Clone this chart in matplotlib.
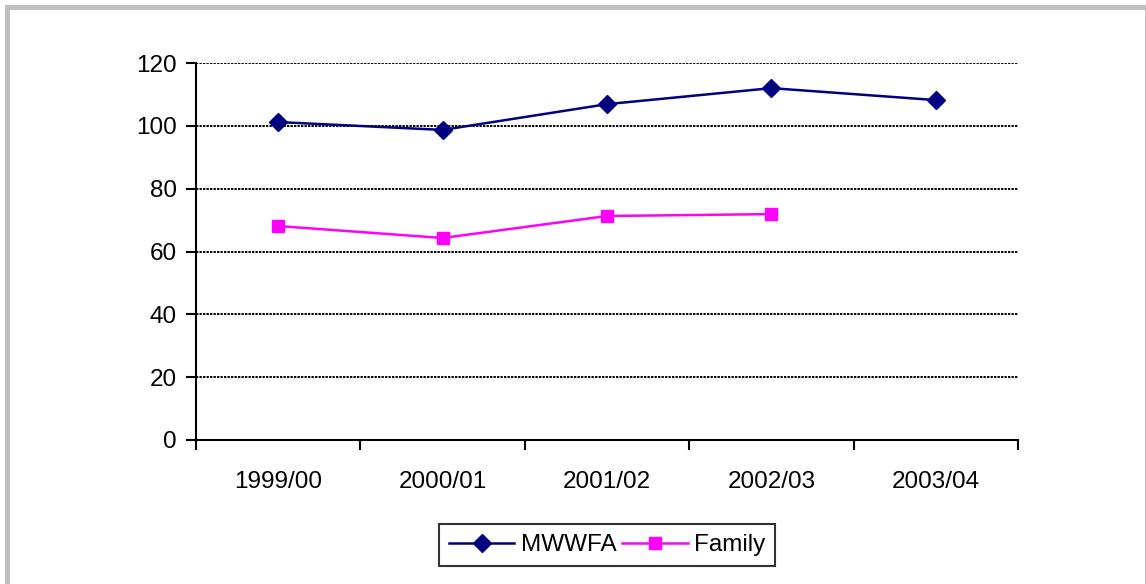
import matplotlib
matplotlib.use("Agg")
import matplotlib.pyplot as plt
from matplotlib.patches import Rectangle
import numpy as np

categories = ["1999/00", "2000/01", "2001/02", "2002/03", "2003/04"]
mwwfa = [101.2, 98.7, 106.9, 112.0, 108.2]
family = [68.1, 64.3, 71.3, 71.9]
yticks = [0, 20, 40, 60, 80, 100, 120]

W, H = 1146, 584
plt.rcParams['font.family'] = ['Liberation Sans', 'DejaVu Sans']
fig = plt.figure(figsize=(W / 100, H / 100), dpi=100)

# outer gray border
fig.patches.append(Rectangle((6.5 / W, -10 / H), (1146.5 - 6.5) / W, (H - 6.5 + 10) / H,
                             transform=fig.transFigure, fill=False,
                             edgecolor="#c0c0c0", linewidth=5 * 72 / 100))

FS = 17.5
ax = fig.add_axes([196 / W, 1 - 440 / H, (1018 - 196) / W, (440 - 63) / H])
x = np.arange(len(categories))
ax.plot(x, mwwfa, color="#000080", marker="D", markersize=9, linewidth=1.8,
        label="MWWFA")
ax.plot(x[:len(family)], family, color="#ff00ff", marker="s", markersize=8.5,
        linewidth=1.8, label="Family", markeredgecolor="#ff00ff")

ax.set_xlim(-0.5, len(categories) - 0.5)
ax.set_ylim(0, 120)
ax.set_yticks(yticks)
ax.set_yticklabels([str(v) for v in yticks], fontsize=FS)
ax.set_xticks(x)
ax.set_xticklabels(categories, fontsize=FS)
ax.tick_params(axis="x", length=0, pad=22)
ax.set_xticks(np.arange(-0.5, len(categories), 1.0), minor=True)
ax.tick_params(axis="x", which="minor", length=7, width=1.5, direction="out")
ax.tick_params(axis="y", length=7, width=1.5, direction="out", pad=7)

for v in yticks[1:]:
    ax.axhline(v, color="black", linestyle=(0, (1.2, 0.6)), linewidth=1.4, zorder=0)

for s in ["top", "right"]:
    ax.spines[s].set_visible(False)
ax.spines["left"].set_linewidth(1.5)
ax.spines["bottom"].set_linewidth(1.5)

leg = fig.legend(loc="center", bbox_to_anchor=(607 / W, 1 - 545 / H), ncol=2,
                 fontsize=FS, frameon=True, fancybox=False, edgecolor="black",
                 handlelength=2.7, columnspacing=0.25, handletextpad=0.25,
                 borderpad=0.4, borderaxespad=0)
leg.get_frame().set_linewidth(1.5)

fig.savefig("out.png", dpi=100)
